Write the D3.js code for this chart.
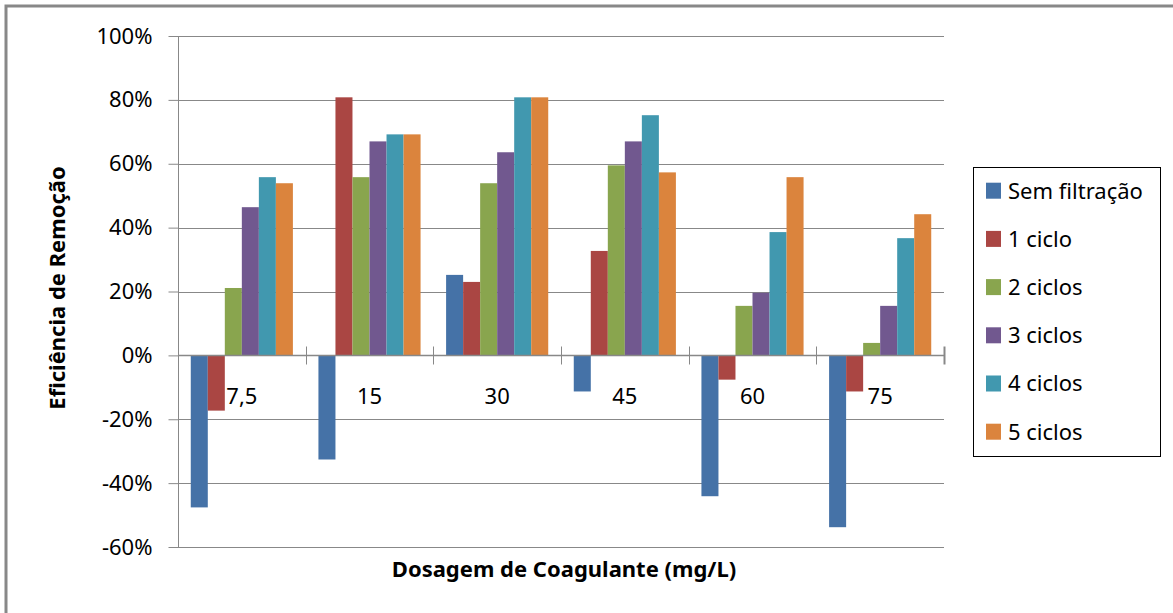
<!DOCTYPE html>
<html lang="pt">
<head>
<meta charset="utf-8">
<title>Eficiência de Remoção</title>
<script src="https://cdn.jsdelivr.net/npm/d3@7"></script>
<style>
  body { margin: 0; background: #fff; }
  text { font-family: "Noto Sans", "Open Sans", sans-serif; fill: #000; }
</style>
</head>
<body>
<script>

var dosagens = ["7,5", "15", "30", "45", "60", "75"];
var series = ["Sem filtração", "1 ciclo", "2 ciclos", "3 ciclos", "4 ciclos", "5 ciclos"];
var cores = ["#4572A7", "#AA4643", "#89A54E", "#71588F", "#4198AF", "#DB843D"];

// valores por série (fração), uma posição por dosagem
var semFiltracao = [-0.476, -0.326, 0.252, -0.113, -0.441, -0.538];
var ciclo1 = [-0.173, 0.808, 0.230, 0.327, -0.076, -0.113];
var ciclos2 = [0.211, 0.558, 0.539, 0.595, 0.155, 0.039];
var ciclos3 = [0.464, 0.670, 0.636, 0.670, 0.196, 0.155];
var ciclos4 = [0.558, 0.692, 0.808, 0.752, 0.386, 0.367];
var ciclos5 = [0.539, 0.692, 0.808, 0.573, 0.558, 0.442];
var valores = [semFiltracao, ciclo1, ciclos2, ciclos3, ciclos4, ciclos5];

var yTicks = [-0.6, -0.4, -0.2, 0, 0.2, 0.4, 0.6, 0.8, 1.0];

var W = 1173, H = 613;
var pLeft = 178, pRight = 944, pTop = 36, pBottom = 547;

var svg = d3.select("body").append("svg")
    .attr("width", W)
    .attr("height", H);

// outer frame (only top/left visible in the original crop)
svg.append("path")
    .attr("d", "M6," + H + "V6H" + W)
    .attr("fill", "none")
    .attr("stroke", "#888")
    .attr("stroke-width", 3);

var y = d3.scaleLinear().domain([-0.6, 1.0]).range([pBottom, pTop]);
var x0 = d3.scaleBand().domain(dosagens).range([pLeft, pRight]).padding(0);
var bw = x0.bandwidth();
var x1 = d3.scaleBand().domain(series).range([bw * 0.1, bw * 0.9]).padding(0);

// gridlines
svg.append("g")
    .attr("class", "grid")
    .selectAll("line")
    .data(yTicks)
    .enter().append("line")
    .attr("x1", pLeft)
    .attr("x2", pRight)
    .attr("y1", function(d) { return Math.round(y(d)) + 0.5; })
    .attr("y2", function(d) { return Math.round(y(d)) + 0.5; })
    .attr("stroke", "#888")
    .attr("stroke-width", 1);

// y axis
var yAxis = d3.axisLeft(y)
    .tickValues(yTicks)
    .tickSize(10)
    .tickPadding(16)
    .tickFormat(function(d) { return Math.round(d * 100) + "%"; });

var gy = svg.append("g")
    .attr("transform", "translate(" + (pLeft + 0.5) + ",0)")
    .call(yAxis);
gy.select(".domain").attr("stroke", "#888").attr("d", "M0," + pTop + "V" + pBottom);
gy.selectAll(".tick line").attr("stroke", "#888");
gy.selectAll(".tick text")
    .style("font-size", "22px")
    .style("font-family", "'Noto Sans', sans-serif")
    .attr("fill", "#000");

// category labels (drawn under the bars)
var xAxis = d3.axisBottom(x0).tickSize(0).tickPadding(33);
var gx = svg.append("g")
    .attr("transform", "translate(0," + y(0) + ")")
    .call(xAxis);
gx.select(".domain").remove();
gx.selectAll(".tick text")
    .style("font-size", "22px")
    .style("font-family", "'Noto Sans', sans-serif")
    .attr("fill", "#000");

// bars
var grupos = svg.append("g").selectAll("g")
    .data(dosagens)
    .enter().append("g")
    .attr("transform", function(d) { return "translate(" + x0(d) + ",0)"; });

grupos.selectAll("rect")
    .data(function(d, i) {
        return series.map(function(s, j) { return { serie: s, v: valores[j][i], c: cores[j] }; });
    })
    .enter().append("rect")
    .attr("x", function(d) { return x1(d.serie); })
    .attr("width", x1.bandwidth())
    .attr("y", function(d) { return y(Math.max(0, d.v)); })
    .attr("height", function(d) { return Math.abs(y(d.v) - y(0)); })
    .attr("fill", function(d) { return d.c; });

// category axis line at 0 with boundary ticks
var z = Math.round(y(0)) + 0.5;
svg.append("line")
    .attr("x1", pLeft).attr("x2", pRight)
    .attr("y1", z).attr("y2", z)
    .attr("stroke", "#888").attr("stroke-width", 1.5);

var bounds = dosagens.slice(1).map(function(d) { return x0(d); }).concat([pRight]);
svg.append("g").selectAll("line")
    .data(bounds)
    .enter().append("line")
    .attr("x1", function(d) { return Math.round(d) + 0.5; })
    .attr("x2", function(d) { return Math.round(d) + 0.5; })
    .attr("y1", z - 9).attr("y2", z + 9)
    .attr("stroke", "#888")
    .attr("stroke-width", function(d, i) { return i === bounds.length - 1 ? 2 : 1; });

// axis titles
svg.append("text")
    .attr("x", (pLeft + pRight) / 2 + 3)
    .attr("y", 577)
    .attr("text-anchor", "middle")
    .style("font-size", "22px")
    .style("font-weight", "bold")
    .text("Dosagem de Coagulante (mg/L)");

svg.append("text")
    .attr("transform", "translate(65,288) rotate(-90)")
    .attr("text-anchor", "middle")
    .style("font-size", "22px")
    .style("font-weight", "bold")
    .text("Eficiência de Remoção");

// legend
var legend = svg.append("g").attr("transform", "translate(973,167)");
legend.append("rect")
    .attr("x", 0.5).attr("y", 0.5)
    .attr("width", 187).attr("height", 289)
    .attr("fill", "#fff")
    .attr("stroke", "#000")
    .attr("stroke-width", 1);

var item = legend.selectAll(".item")
    .data(series)
    .enter().append("g")
    .attr("class", "item")
    .attr("transform", function(d, i) { return "translate(13," + (23.7 + i * 48.2) + ")"; });

item.append("rect")
    .attr("x", 0).attr("y", -8)
    .attr("width", 15).attr("height", 16)
    .attr("fill", function(d, i) { return cores[i]; });

item.append("text")
    .attr("x", 22)
    .attr("dy", "0.36em")
    .style("font-size", "22px")
    .text(function(d) { return d; });

</script>
</body>
</html>
